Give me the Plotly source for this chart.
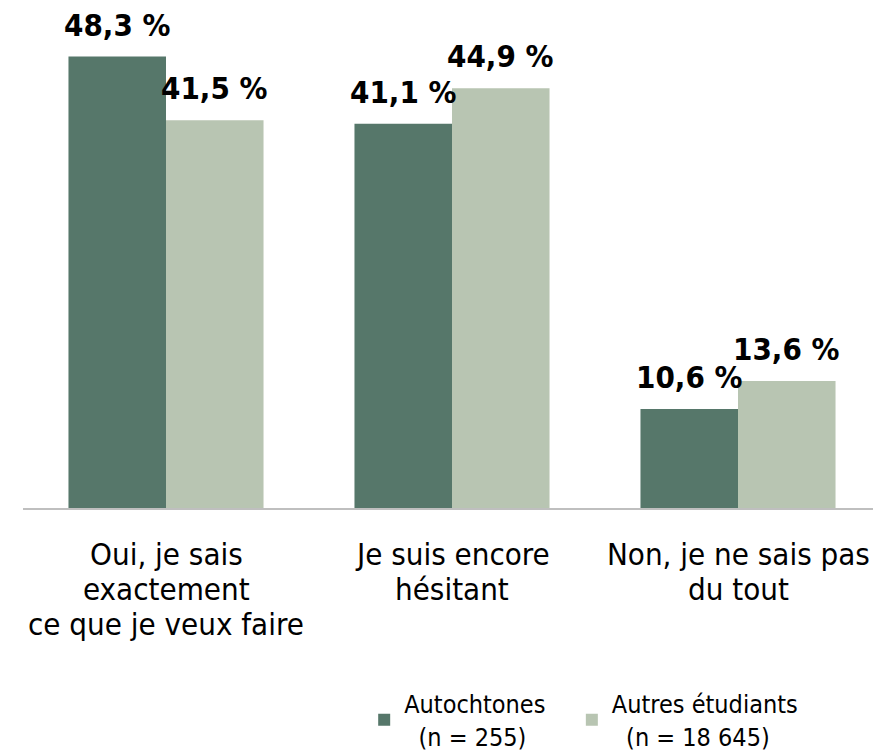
import plotly.graph_objects as go

categories = ["Oui, je sais<br>exactement<br>ce que je veux faire",
              "Je suis encore<br>hésitant",
              "Non, je ne sais pas<br>du tout"]
series_names = ["Autochtones\u00a0\u00a0\u00a0<br>\u00a0\u00a0(n = 255)",
                "Autres étudiants<br>\u00a0\u00a0(n = 18 645)"]
autochtones = [48.3, 41.1, 10.6]
autres = [41.5, 44.9, 13.6]

FONT = "Liberation Sans Narrow, Arial Narrow, DejaVu Sans Condensed, sans-serif"
colors = ["#56776A", "#B8C5B2"]
BARGAP = 0.318

def fmt(v):
    return f"{v:.1f} %".replace(".", ",")

x = list(range(len(categories)))
fig = go.Figure()
half = (1 - BARGAP) / 2
for k, (name, vals, col) in enumerate(zip(series_names, [autochtones, autres], colors)):
    fig.add_trace(go.Bar(
        x=x, y=vals, name=name, marker_color=col, marker_line_width=0,
    ))
    off = (k - 0.5) * half
    for i, v in zip(x, vals):
        fig.add_annotation(x=i + off, xref="x", y=v, yref="y", text=fmt(v),
                           showarrow=False, yanchor="bottom", yshift=12,
                           font=dict(family=FONT, size=31, color="#000000", weight="bold"))

# category labels as annotations (tighter line spacing)
for i, cat in enumerate(categories):
    for j, line in enumerate(cat.split("<br>")):
        fig.add_annotation(x=i, xref="x", y=-0.094 - j * 0.072, yref="paper",
                           text=line, showarrow=False, yanchor="middle",
                           font=dict(family=FONT, size=31, color="#000000"))

fig.update_layout(
    width=873, height=745,
    margin=dict(l=15, r=0, t=14, b=245),
    paper_bgcolor="white", plot_bgcolor="white",
    barmode="group", bargap=BARGAP, bargroupgap=0,
    showlegend=True,
    legend=dict(orientation="h", xref="container", x=0.408, xanchor="left",
                yref="container", y=0.097, yanchor="top",
                font=dict(family=FONT, size=25, color="#000000"),
                traceorder="normal"),
    xaxis=dict(range=[-0.5, 2.5], showticklabels=False, ticks="", showgrid=False,
               showline=True, linecolor="#BFBFBF", linewidth=2, zeroline=False),
    yaxis=dict(range=[0, 52], visible=False, showgrid=False, zeroline=False),
)

fig.write_html("out.html")
